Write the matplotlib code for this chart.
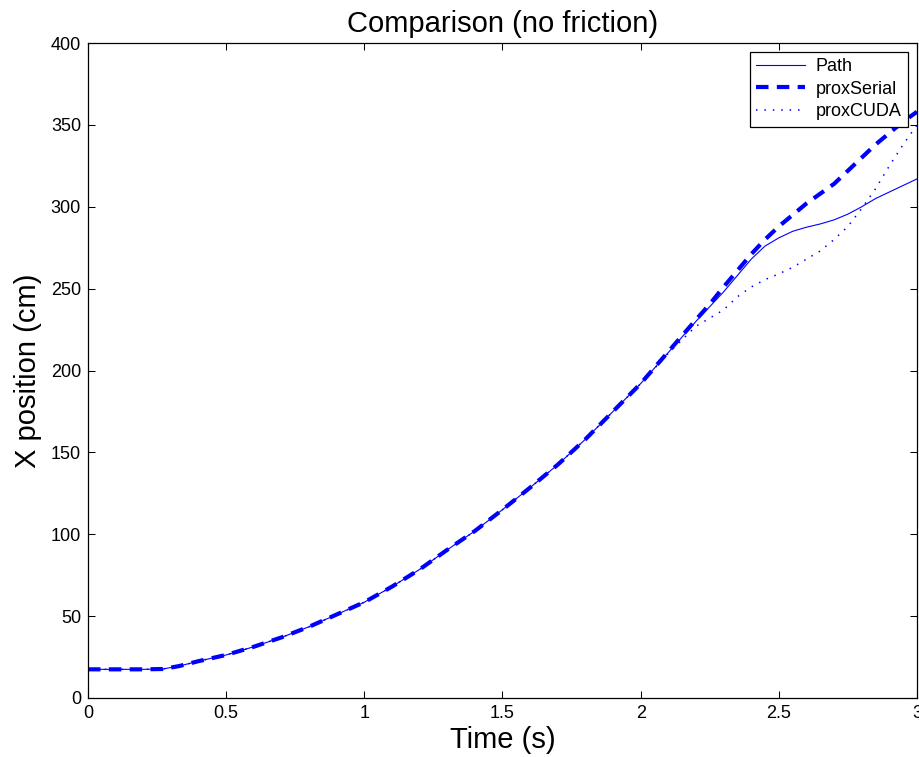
import matplotlib
matplotlib.use("Agg")
import matplotlib.pyplot as plt

plt.rcParams['font.family'] = ['Liberation Sans', 'DejaVu Sans']

# time samples (s)
time = [0.0, 0.1, 0.2, 0.27, 0.33, 0.4, 0.5, 0.6, 0.7, 0.8, 0.9, 1.0, 1.1, 1.2,
        1.3, 1.4, 1.5, 1.6, 1.7, 1.8, 1.9, 2.0, 2.1, 2.2, 2.25, 2.3, 2.35, 2.4,
        2.45, 2.5, 2.55, 2.6, 2.65, 2.7, 2.75, 2.8, 2.85, 2.9, 2.95, 3.0]

path = [17.5, 17.5, 17.5, 17.7, 19.5, 22.5, 26.3, 31.3, 37.0, 43.5, 51.0, 58.5,
        68.0, 78.5, 90.5, 102.0, 115.0, 128.5, 142.5, 158.0, 175.0, 192.0,
        211.0, 230.0, 239.0, 248.0, 258.0, 268.0, 276.0, 281.0, 285.0, 287.5,
        289.5, 292.0, 295.5, 300.0, 305.0, 309.0, 313.0, 317.0]

prox_serial = [17.5, 17.5, 17.5, 17.7, 19.5, 22.5, 26.3, 31.3, 37.0, 43.5, 51.0,
               58.5, 68.0, 78.5, 90.5, 102.0, 115.0, 128.5, 142.5, 158.0, 175.0,
               192.0, 211.5, 231.0, 240.5, 251.0, 261.0, 271.0, 280.0, 288.0,
               295.0, 302.0, 308.0, 314.0, 322.0, 330.0, 338.0, 345.0, 352.0,
               358.0]

prox_cuda = [17.5, 17.5, 17.5, 17.7, 19.5, 22.5, 26.3, 31.3, 37.0, 43.5, 51.0,
             58.5, 68.0, 78.5, 90.5, 102.0, 115.0, 128.5, 142.5, 158.0, 175.0,
             192.0, 210.5, 227.0, 232.0, 237.0, 245.0, 251.0, 255.5, 259.0,
             263.0, 268.0, 273.0, 280.0, 288.0, 299.0, 311.0, 325.0, 338.0,
             350.0]

x_ticks = [0, 0.5, 1, 1.5, 2, 2.5, 3]
x_tick_labels = ['0', '0.5', '1', '1.5', '2', '2.5', '3']
y_ticks = [0, 50, 100, 150, 200, 250, 300, 350, 400]
y_tick_labels = ['0', '50', '100', '150', '200', '250', '300', '350', '400']

fig = plt.figure(figsize=(9.2, 7.57), dpi=100)
ax = fig.add_axes([88 / 920, 59 / 757, 829 / 920, 655 / 757])

blue = (0, 0, 1)
ax.plot(time, path, color=blue, lw=0.8, label='Path')
ax.plot(time, prox_serial, color=blue, lw=3.0, dashes=(3, 2), label='proxSerial')
ax.plot(time, prox_cuda, color=blue, lw=1.1, dashes=(1, 4.5), label='proxCUDA')

ax.set_xlim(0, 3)
ax.set_ylim(0, 400)
ax.set_xticks(x_ticks)
ax.set_xticklabels(x_tick_labels)
ax.set_yticks(y_ticks)
ax.set_yticklabels(y_tick_labels)
ax.tick_params(direction='in', length=5, width=0.75, top=True, right=True,
               labelsize=13, pad=5)
for s in ax.spines.values():
    s.set_linewidth(0.9)

ax.set_title('Comparison (no friction)', fontsize=21, pad=8)
ax.set_xlabel('Time (s)', fontsize=21, labelpad=3)
ax.set_ylabel('X position (cm)', fontsize=21, labelpad=6)

leg = ax.legend(loc='upper right', fontsize=13, fancybox=False, framealpha=1,
                edgecolor='black', handlelength=2.7, handletextpad=0.6,
                borderaxespad=0.5, labelspacing=0.3, borderpad=0.35)
leg.get_frame().set_linewidth(0.9)

fig.savefig('out.png', dpi=100)
